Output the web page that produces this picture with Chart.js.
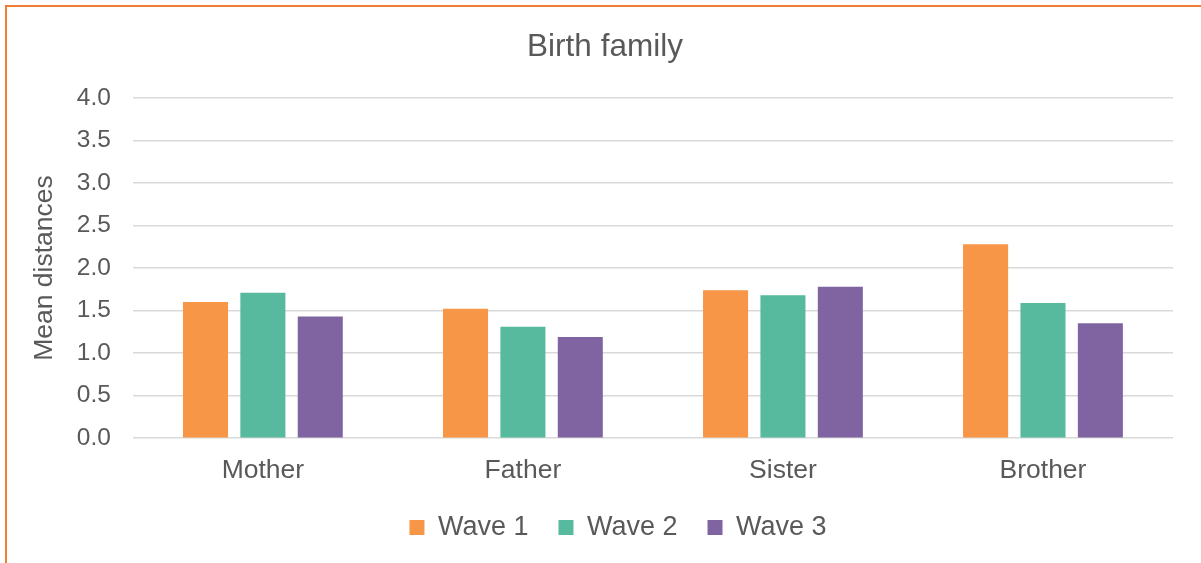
<!DOCTYPE html>
<html>
<head>
<meta charset="utf-8">
<script src="https://cdn.jsdelivr.net/npm/chart.js@4"></script>
<style>
  html, body { margin: 0; padding: 0; background: #fff; overflow: hidden; }
  #wrap { position: relative; width: 1201px; height: 563px; }
  #frame { position: absolute; left: 5px; top: 5px; width: 1300px; height: 700px; border: 2px solid #EF7F32; box-sizing: border-box; pointer-events: none; }
  canvas { position: absolute; left: 0; top: 0; }
</style>
</head>
<body>
<div id="wrap">
  <canvas id="c" width="1201" height="563"></canvas>
  <div id="frame"></div>
</div>
<script>
const categories = ["Mother", "Father", "Sister", "Brother"];
const seriesNames = ["Wave 1", "Wave 2", "Wave 3"];
const wave1 = [1.60, 1.52, 1.74, 2.28];
const wave2 = [1.71, 1.31, 1.68, 1.59];
const wave3 = [1.43, 1.19, 1.78, 1.35];
const colors = ["#F79646", "#57B99E", "#8064A2"];
const chartTitle = "Birth family";
const yTitle = "Mean distances";

const textColor = "#595959";
const fontFamily = "'Liberation Sans', Arial, sans-serif";

// Fine-tunes the title and legend blocks: keeps wide horizontal legend
// spacing without the matching vertical padding, and centres them as in the reference.
const blockTweak = {
  id: "blockTweak",
  afterInit(chart) {
    const lg = chart.legend;
    if (!lg) return;
    const f = lg.fit;
    lg.fit = function () { f.call(this); this.height -= 8; };
  },
  afterLayout(chart) {
    const lg = chart.legend;
    if (lg) {
      lg.top -= 20; lg.bottom -= 20;
      lg.left += 23; lg.right += 23;
    }
    const tb = chart.titleBlock;
    if (tb) { tb.left += 10; tb.right += 10; }
  }
};

new Chart(document.getElementById("c"), {
  type: "bar",
  data: {
    labels: categories,
    datasets: [wave1, wave2, wave3].map((d, i) => ({
      label: seriesNames[i],
      data: d,
      backgroundColor: colors[i],
      borderWidth: 0,
      barPercentage: 0.785,
      categoryPercentage: 0.662
    }))
  },
  plugins: [blockTweak],
  options: {
    responsive: false,
    animation: false,
    devicePixelRatio: 1,
    layout: { padding: { left: 17, right: 28, top: 18, bottom: 0 } },
    plugins: {
      title: {
        display: true,
        text: chartTitle,
        color: textColor,
        font: { family: fontFamily, size: 31.5, weight: "normal" },
        padding: { top: 10, bottom: 32 }
      },
      legend: {
        position: "bottom",
        labels: {
          color: textColor,
          font: { family: fontFamily, size: 27 },
          boxWidth: 15,
          boxHeight: 15,
          padding: 30
        }
      },
      tooltip: { enabled: false }
    },
    scales: {
      x: {
        grid: { display: false, drawTicks: false },
        border: { display: false },
        ticks: {
          color: textColor,
          font: { family: fontFamily, size: 26.5 },
          padding: 17
        }
      },
      y: {
        min: 0,
        max: 4,
        grid: { color: "#D9D9D9", lineWidth: 1.5, drawTicks: false },
        border: { display: false },
        ticks: {
          stepSize: 0.5,
          color: textColor,
          font: { family: fontFamily, size: 24.5 },
          padding: 22,
          callback: v => Number(v).toFixed(1)
        },
        title: {
          display: true,
          text: yTitle,
          color: textColor,
          font: { family: fontFamily, size: 26.5 },
          padding: { top: 12, bottom: -6 }
        }
      }
    }
  }
});
</script>
</body>
</html>
